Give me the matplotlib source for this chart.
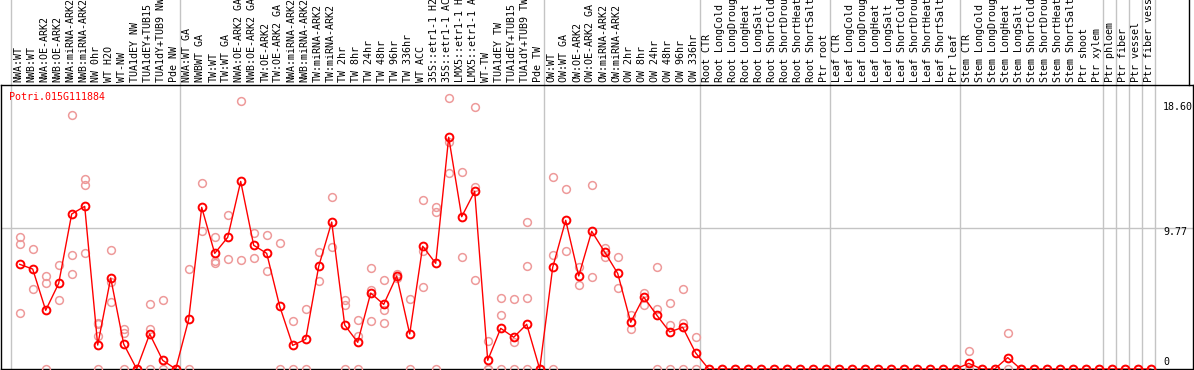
import matplotlib
matplotlib.use("Agg")
import matplotlib.pyplot as plt
import matplotlib.transforms as mtransforms
from matplotlib.lines import Line2D

# ---------------- data ----------------
samples = [
    "NWA:WT", "NWB:WT", "NWA:OE-ARK2", "NWB:OE-ARK2", "NWA:miRNA-ARK2", "NWB:miRNA-ARK2",
    "NW 0hr", "WT H2O", "WT-NW", "TUA1dEY NW", "TUA1dEY+TUB15 NW", "TUA1dY+TUB9 NW", "Pde NW",
    "NWA:WT GA", "NWBWT GA", "TW:WT", "TW:WT GA", "NWA:OE-ARK2 GA", "NWB:OE-ARK2 GA",
    "TW:OE-ARK2", "TW:OE-ARK2 GA", "NWA:miRNA-ARK2", "NWB:miRNA-ARK2", "TW:miRNA-ARK2",
    "TW:miRNA-ARK2", "TW 2hr", "TW 8hr", "TW 24hr", "TW 48hr", "TW 96hr", "TW 336hr",
    "WT ACC", "35S::etr1-1 H2O", "35S::etr1-1 ACC", "LMX5::etr1-1 H2O", "LMX5::etr1-1 ACC",
    "WT-TW", "TUA1dEY TW", "TUA1dEY+TUB15 TW", "TUA1dY+TUB9 TW", "Pde TW",
    "OW:WT", "OW:WT GA", "OW:OE-ARK2", "OW:OE-ARK2 GA", "OW:miRNA-ARK2", "OW:miRNA-ARK2",
    "OW 2hr", "OW 8hr", "OW 24hr", "OW 48hr", "OW 96hr", "OW 336hr",
    "Root CTR", "Root LongCold", "Root LongDrought", "Root LongHeat", "Root LongSalt",
    "Root ShortCold", "Root ShortDrought", "Root ShortHeat", "Root ShortSalt", "Ptr root",
    "Leaf CTR", "Leaf LongCold", "Leaf LongDrought", "Leaf LongHeat", "Leaf LongSalt",
    "Leaf ShortCold", "Leaf ShortDrought", "Leaf ShortHeat", "Leaf ShortSalt", "Ptr leaf",
    "Stem CTR", "Stem LongCold", "Stem LongDrought", "Stem LongHeat", "Stem LongSalt",
    "Stem ShortCold", "Stem ShortDrought", "Stem ShortHeat", "Stem ShortSalt", "Ptr shoot",
    "Ptr xylem", "Ptr phloem", "Ptr fiber", "Ptr vessel", "Ptr fiber vessel",
]

mean_values = [
    7.26, 6.93, 4.07, 5.94, 10.75, 11.28, 1.66, 6.31, 1.73, 0.0, 2.43, 0.60, 0.0,
    3.44, 11.21, 8.02, 9.13, 13.01, 8.58, 8.02, 4.35, 1.64, 2.06, 7.12, 10.19,
    3.05, 1.85, 5.27, 4.48, 6.45, 2.43, 8.51, 7.33, 16.07, 10.56, 12.32,
    0.60, 2.82, 2.20, 3.10, 0.0,
    7.05, 10.31, 6.45, 9.55, 8.11, 6.63, 3.24, 4.99, 3.74, 2.57, 2.89, 1.11,
    0.0, 0.0, 0.0, 0.0, 0.0, 0.0, 0.0, 0.0, 0.0, 0.0,
    0.0, 0.0, 0.0, 0.0, 0.0, 0.0, 0.0, 0.0, 0.0, 0.0,
    0.39, 0.0, 0.0, 0.79, 0.0, 0.0, 0.0, 0.0, 0.0, 0.0,
    0.0, 0.0, 0.0, 0.0, 0.0,
]

replicate_values = [
    [9.13, 8.67, 3.91], [8.30, 5.55], [6.45, 5.94, 0.0], [7.19, 4.76],
    [17.59, 7.88, 6.56], [13.18, 12.74, 8.02], [3.21, 3.10, 2.31, 0.0],
    [8.25, 6.06, 4.62], [2.77, 2.47, 0.0], [0.0], [4.48, 2.77, 0.0], [4.76, 0.0], [0.0],
    [6.91, 0.0], [12.88, 9.59], [9.18, 7.49, 7.37], [10.66, 7.61], [18.56, 7.54],
    [9.41, 7.67], [9.27, 6.80], [8.74, 0.0], [3.31, 0.0], [4.16, 0.0], [8.09, 6.08],
    [11.90, 8.44], [4.76, 4.44, 0.0], [3.40, 2.31, 0.0], [6.98, 5.50, 3.31],
    [6.15, 4.11, 3.17], [6.59, 6.31], [4.83, 0.0], [11.70, 8.20, 5.66],
    [11.21, 10.91, 0.0], [18.77, 15.76, 13.57], [13.64, 7.74], [18.15, 12.64, 6.17],
    [1.92, 0.0, 0.0], [4.92, 3.74, 0.0], [4.83, 1.85, 0.0], [10.19, 7.12, 4.92, 0.0], [0.0],
    [13.29, 7.88, 0.0], [12.46, 8.16], [7.05, 5.80], [12.74, 6.36], [8.37, 7.79],
    [7.74, 5.62], [3.74, 2.75], [5.27, 4.44], [7.05, 4.16, 0.0], [4.55, 3.05, 0.0],
    [5.55, 3.19, 0.0], [2.20, 0.0],
    [0.0], [0.0], [0.0], [0.0], [0.0], [0.0], [0.0], [0.0], [0.0], [0.0],
    [0.0], [0.0], [0.0], [0.0], [0.0], [0.0], [0.0], [0.0], [0.0], [0.0],
    [1.23, 0.0], [0.0], [0.0], [2.47, 0.0], [0.0], [0.0], [0.0], [0.0], [0.0], [0.0],
    [0.0], [0.0], [0.0], [0.0], [0.0],
]

# index of first sample after each group separator
group_starts = [0, 13, 41, 53, 63, 73, 84, 85, 86, 87, 88]

gene_name = "Potri.015G111884"
y_tick_values = [18.60, 9.77, 0]
y_tick_labels = ["18.60", "9.77", "0"]
mid_line_value = 9.77

# ---------------- figure ----------------
W, H = 1194, 370
fig = plt.figure(figsize=(W / 100, H / 100), dpi=100)
fig.patch.set_facecolor("white")

left_px, right_px, top_px, bottom_px = 1, 1193, 85, 369
ax = fig.add_axes([left_px / W, (H - bottom_px) / H,
                   (right_px - left_px) / W, (bottom_px - top_px) / H])

FONT = "DejaVu Sans Mono"
FS = 7.2
RED = "#ff0000"
PINK = "#ee9a9a"
GRID = "#c4c4c4"

x = list(range(len(samples)))

# replicate points
for i, reps in enumerate(replicate_values):
    ax.plot([i] * len(reps), reps, linestyle="none", marker="o", ms=5.6,
            mfc="none", mec=PINK, mew=1.1, zorder=3)

# mean line
ax.plot(x, mean_values, color=RED, lw=1.0, marker="o", ms=5.6, mfc="none",
        mec=RED, mew=1.4, zorder=4)

px_per_unit = 14.42
ax.set_xlim(-18.7 / 13, 1173.3 / 13)
ax.set_ylim(0, (bottom_px - top_px) / px_per_unit)

# separators
for b in group_starts:
    ax.axvline(b - 0.65, ymin=0, ymax=1 + top_px / (bottom_px - top_px),
               color=GRID, lw=1.0, zorder=1, clip_on=False)
ax.axhline(mid_line_value, color=GRID, lw=1.0, zorder=1)

for s in ax.spines.values():
    s.set_color("black")
    s.set_linewidth(1.0)
ax.set_xticks([])
ax.set_yticks([])

# header right border
fig.add_artist(Line2D([1188.5 / W, 1188.5 / W], [(H - top_px) / H, 1.0],
                      color="black", lw=1.0, transform=fig.transFigure))

# header labels
trans_lbl = mtransforms.blended_transform_factory(ax.transData, ax.transAxes)
for i, name in enumerate(samples):
    ax.text(i - 0.1, 1 + 3 / (bottom_px - top_px), name, rotation=90,
            ha="center", va="bottom", fontsize=FS, family=FONT,
            color="black", transform=trans_lbl, clip_on=False)

# gene name
ax.text(8.3 / (right_px - left_px), 1 - 12 / (bottom_px - top_px), gene_name,
        transform=ax.transAxes, ha="left", va="center", color=RED,
        fontsize=FS, family=FONT)

# y value labels on the right (pixel shift: positive = downward)
trans_y = mtransforms.blended_transform_factory(ax.transAxes, ax.transData)
shift_px = [6.5, 3.4, -7.3]
for v, lab, sh in zip(y_tick_values, y_tick_labels, shift_px):
    ax.annotate(lab, xy=((1163 - left_px) / (right_px - left_px), v),
                xycoords=trans_y, xytext=(0, -sh * 0.72), textcoords="offset points",
                ha="left", va="center", fontsize=FS, family=FONT, color="black",
                annotation_clip=False)

fig.savefig("out.png", dpi=100)
